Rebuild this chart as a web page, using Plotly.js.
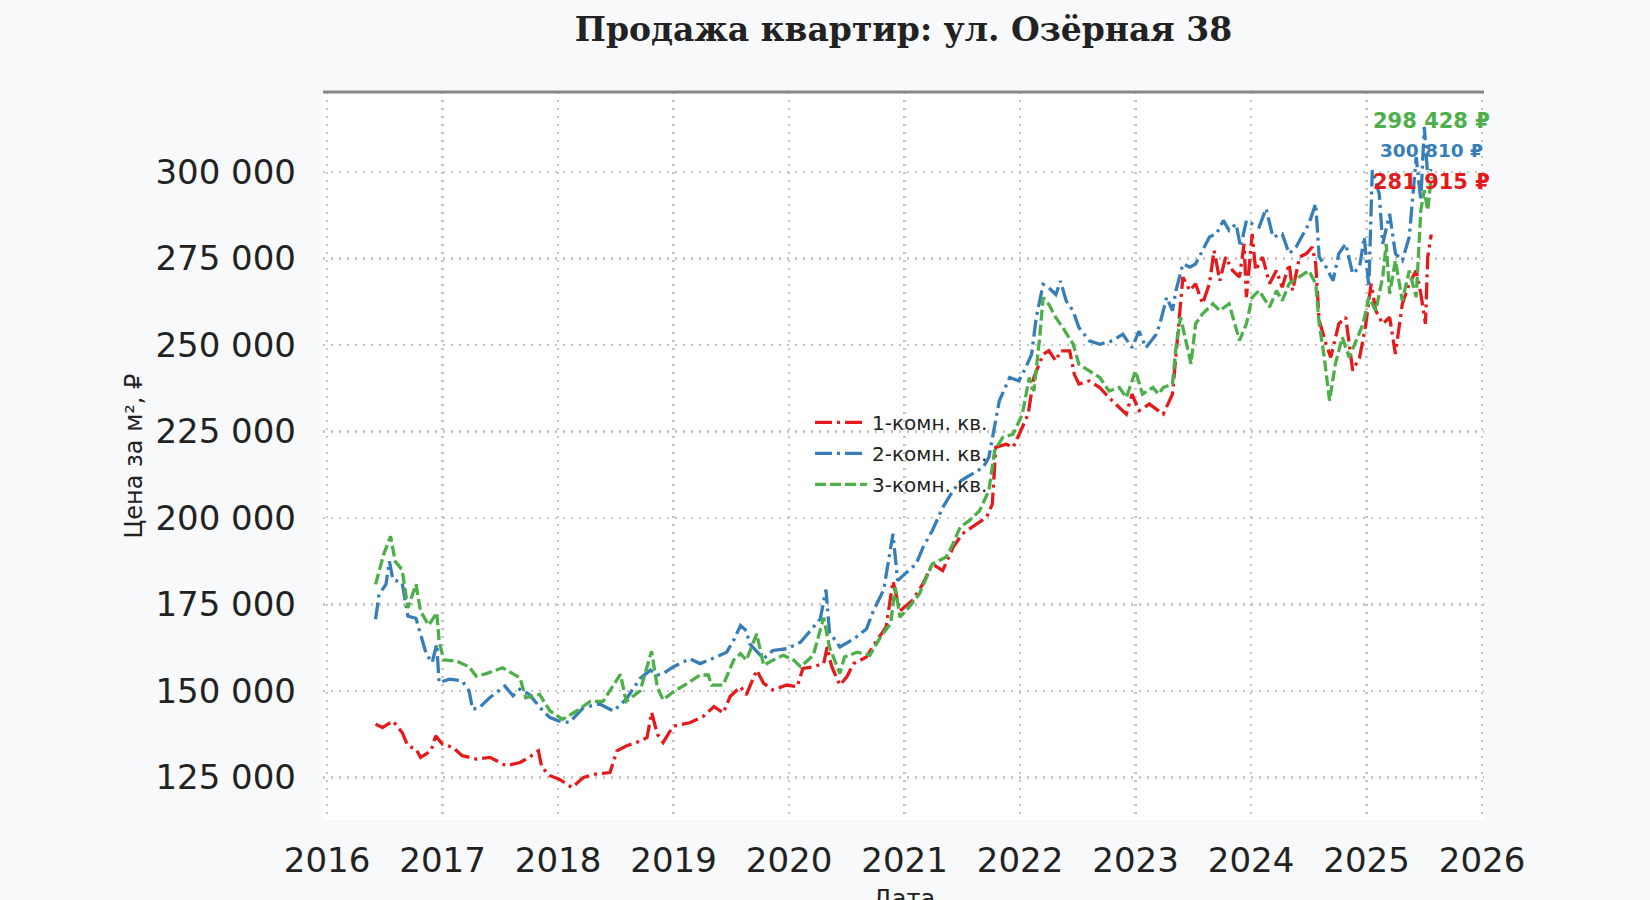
<!DOCTYPE html>
<html>
<head>
<meta charset="utf-8">
<script src="https://cdn.plot.ly/plotly-3.0.1.min.js"></script>
<style>
  html, body { margin: 0; padding: 0; background: #f8f9fb; }
  #chart { width: 1650px; height: 900px; }
</style>
</head>
<body>
<div id="chart"></div>
<script>
// ---- data ----
const seriesNames = ['1-комн. кв.', '2-комн. кв.', '3-комн. кв.'];

const years1 = [2016.42,2016.48,2016.57,2016.65,2016.70,2016.77,2016.81,2016.90,2016.94,2017.00,
  2017.09,2017.17,2017.29,2017.41,2017.55,2017.67,2017.75,2017.83,2017.86,2017.93,
  2018.01,2018.12,2018.22,2018.33,2018.45,2018.51,2018.59,2018.68,2018.77,2018.81,
  2018.86,2018.91,2018.97,2019.00,2019.14,2019.26,2019.35,2019.43,2019.49,2019.58,
  2019.63,2019.72,2019.78,2019.86,2019.98,2020.07,2020.12,2020.21,2020.30,2020.33,
  2020.37,2020.44,2020.50,2020.56,2020.67,2020.76,2020.84,2020.90,2020.96,2021.07,
  2021.16,2021.24,2021.33,2021.42,2021.50,2021.62,2021.71,2021.76,2021.79,2021.88,
  2021.94,2022.02,2022.07,2022.12,2022.20,2022.25,2022.31,2022.35,2022.43,2022.47,
  2022.51,2022.60,2022.69,2022.77,2022.86,2022.92,2022.97,2023.03,2023.12,2023.20,
  2023.24,2023.32,2023.37,2023.41,2023.47,2023.52,2023.58,2023.64,2023.68,2023.73,
  2023.78,2023.84,2023.90,2023.94,2023.96,2024.01,2024.04,2024.10,2024.16,2024.22,
  2024.27,2024.33,2024.36,2024.42,2024.48,2024.53,2024.56,2024.59,2024.65,2024.69,
  2024.76,2024.82,2024.88,2024.94,2024.99,2025.04,2025.08,2025.14,2025.20,2025.25,
  2025.31,2025.37,2025.43,2025.47,2025.51,2025.53,2025.56];
const price1 = [140400,139400,141300,138000,134100,133200,130800,132700,137000,134600,
  133700,131300,130300,130800,128400,129300,130800,132700,127900,125500,
  124500,122100,125000,126000,126400,132700,134100,135100,136500,143800,
  137500,135100,138400,139800,140800,142700,145500,143600,148400,151200,
  148900,156000,152200,150300,151700,151200,156500,157000,157900,162700,
  157000,151700,154100,157900,159800,164600,168400,181700,173100,176200,
  181000,186700,184800,191500,195400,198300,200200,204000,220400,221300,
  220400,226200,230000,240600,247300,248300,245400,248300,248300,241500,
  238700,239600,237700,234800,231900,230000,235800,231000,232900,231000,
  230000,235800,255100,269600,265700,267700,261900,267700,277300,268600,
  275400,271500,269600,279200,263800,282100,271500,275400,267700,271500,
  266700,273400,265700,275400,276400,278300,273400,257000,250300,246400,
  256100,258000,242600,246400,255100,267700,259900,256100,258000,247400,
  261900,267700,271500,264800,256100,275400,281915];

const years2 = [2016.42,2016.45,2016.51,2016.54,2016.57,2016.65,2016.70,2016.77,2016.81,2016.86,
  2016.91,2016.95,2016.97,2017.06,2017.17,2017.23,2017.26,2017.32,2017.41,2017.54,
  2017.61,2017.67,2017.75,2017.87,2017.93,2018.01,2018.10,2018.22,2018.36,2018.48,
  2018.59,2018.71,2018.80,2018.86,2018.91,2019.00,2019.14,2019.23,2019.37,2019.46,
  2019.52,2019.58,2019.63,2019.66,2019.78,2019.86,2019.98,2020.10,2020.21,2020.27,
  2020.32,2020.35,2020.44,2020.56,2020.67,2020.73,2020.82,2020.90,2020.94,2021.00,
  2021.10,2021.16,2021.24,2021.33,2021.42,2021.49,2021.59,2021.68,2021.73,2021.78,
  2021.82,2021.91,2021.99,2022.05,2022.10,2022.14,2022.20,2022.25,2022.31,2022.35,
  2022.40,2022.46,2022.51,2022.60,2022.69,2022.80,2022.89,2022.97,2023.03,2023.09,
  2023.18,2023.21,2023.27,2023.32,2023.35,2023.41,2023.47,2023.52,2023.58,2023.64,
  2023.70,2023.76,2023.81,2023.87,2023.91,2023.96,2024.01,2024.07,2024.13,2024.19,
  2024.27,2024.33,2024.39,2024.45,2024.50,2024.56,2024.59,2024.65,2024.71,2024.76,
  2024.82,2024.88,2024.94,2024.98,2025.02,2025.05,2025.11,2025.14,2025.20,2025.25,
  2025.31,2025.37,2025.43,2025.47,2025.50,2025.53,2025.56];
const price2 = [170700,177900,180800,187500,182200,181300,171600,171000,166300,160600,
  158200,163500,152400,153400,152900,150000,144700,145200,148100,151400,
  148600,150500,149000,144200,142300,141300,140900,145200,146200,144200,
  147600,153600,156000,154600,155000,157000,159300,157900,159800,161200,
  164600,168900,167400,163600,159300,161700,162200,164100,168400,170800,
  179300,167000,162700,165000,167900,173100,179300,195400,181900,183800,
  186700,191500,196300,203000,207900,210800,212700,214600,217500,226200,
  233800,240600,239600,243500,247300,257900,267500,266500,264600,268500,
  262700,259800,255000,251200,250200,251200,253100,249200,254000,249200,
  253100,256000,263800,259900,265700,273400,272500,273400,277300,281200,
  282100,286000,283100,285000,278300,286000,285000,284100,289400,281200,
  282100,276400,278300,282100,285000,290800,275400,272500,268600,276400,
  279200,270600,272500,281200,266700,300500,293700,279200,287900,276400,
  274400,281200,304300,291800,313000,298600,300810];

const years3 = [2016.42,2016.49,2016.55,2016.59,2016.65,2016.70,2016.77,2016.81,2016.88,2016.95,
  2016.97,2017.01,2017.12,2017.23,2017.29,2017.38,2017.52,2017.67,2017.72,2017.84,
  2017.93,2018.04,2018.16,2018.28,2018.39,2018.54,2018.59,2018.71,2018.81,2018.86,
  2018.91,2019.00,2019.12,2019.23,2019.30,2019.33,2019.43,2019.52,2019.58,2019.63,
  2019.72,2019.78,2019.86,2019.95,2020.04,2020.10,2020.21,2020.30,2020.35,2020.44,
  2020.48,2020.59,2020.70,2020.79,2020.88,2020.92,2020.96,2021.04,2021.13,2021.24,
  2021.36,2021.42,2021.48,2021.56,2021.65,2021.73,2021.78,2021.85,2021.94,2022.02,
  2022.08,2022.12,2022.17,2022.20,2022.25,2022.31,2022.37,2022.46,2022.51,2022.60,
  2022.69,2022.77,2022.86,2022.92,2023.00,2023.06,2023.15,2023.20,2023.24,2023.32,
  2023.35,2023.39,2023.44,2023.48,2023.52,2023.58,2023.67,2023.73,2023.81,2023.90,
  2023.96,2024.01,2024.07,2024.16,2024.22,2024.27,2024.33,2024.42,2024.50,2024.56,
  2024.59,2024.63,2024.68,2024.73,2024.79,2024.85,2024.91,2024.97,2025.02,2025.08,
  2025.14,2025.17,2025.20,2025.25,2025.31,2025.37,2025.43,2025.47,2025.50,2025.53,
  2025.56];
const price3 = [180800,189400,194700,187500,185000,174000,180800,173000,169000,172600,
  164400,159000,158600,157000,154300,155000,156700,153800,148000,149000,
  144200,141800,144200,147000,147000,154800,147000,150000,161500,151000,
  147400,149800,152200,154600,154600,151700,151700,158900,160800,158900,
  166500,157400,158900,160300,158900,157000,160300,171200,162700,155000,
  159800,161200,160300,165500,169500,180000,171300,174200,178100,186700,
  188700,192500,197300,199200,202100,207900,219400,223300,224200,230000,
  240600,236700,252100,263700,261700,257900,255000,250200,244400,242500,
  240600,236700,237700,234800,242500,235800,237700,235800,237700,238700,
  249300,258000,250300,244500,256100,259000,261900,259900,261900,251300,
  256100,263800,265700,260900,265700,262800,267700,269600,271500,267700,
  256100,247400,233900,244500,252200,246400,251300,256100,263800,259900,
  269600,279200,264800,274400,262800,271500,263800,288900,294700,288900,
  298428];

const yTickValues = [125000,150000,175000,200000,225000,250000,275000,300000];
const xTickValues = [2016,2017,2018,2019,2020,2021,2022,2023,2024,2025,2026];
const xTickLabels = ['2016','2017','2018','2019','2020','2021','2022','2023','2024','2025','2026'];

// ---- styling ----
const colors = ['#e41a1c', '#377eb8', '#4daf4a'];
const dashes = ['17px,5px,3px,5px', '17px,5px,3px,5px', '11px,4px'];
const allYears = [years1, years2, years3];
const allPrices = [price1, price2, price3];

function fmtRub(v) {
  return String(Math.round(v)).replace(/\B(?=(\d{3})+(?!\d))/g, ' ') + ' ₽';
}

const traces = allYears.map((xs, i) => ({
  type: 'scatter',
  mode: 'lines',
  name: seriesNames[i],
  legendgroup: 'g' + i,
  x: xs,
  y: allPrices[i],
  line: { color: colors[i], width: 3.3, dash: dashes[i] },
  hoverinfo: 'skip'
}));

// end-of-series labels (stacked above plot top-right)
const labelOrder = [2, 1, 0];           // green, blue, red (top to bottom)
const labelY = [0.9595, 0.9197, 0.877];
const labelSize = [21, 18.5, 21];
const labelX = [1.0072, 1.0012, 1.0072];
const annotations = labelOrder.map((si, k) => {
  const p = allPrices[si];
  return {
    xref: 'paper', yref: 'paper',
    x: labelX[k], y: labelY[k],
    xanchor: 'right', yanchor: 'middle',
    text: '<b>' + fmtRub(p[p.length - 1]) + '</b>',
    showarrow: false,
    font: { family: 'DejaVu Sans, sans-serif', size: labelSize[k], color: colors[si] }
  };
});

// x-axis title placed low (partly beyond the bottom edge, as in the reference)
annotations.push({
  xref: 'paper', yref: 'paper',
  x: 0.5, y: -0.086,
  xanchor: 'center', yanchor: 'top',
  text: 'Дата',
  showarrow: false,
  font: { family: 'DejaVu Sans, sans-serif', size: 24, color: '#222222' }
});

const gridStyle = { showgrid: true, gridcolor: '#c6c6c6', gridwidth: 2.4, griddash: '2.4px,5.6px' };

const layout = {
  width: 1650, height: 900,
  paper_bgcolor: '#f8f9fb',
  plot_bgcolor: '#ffffff',
  separators: ', ',
  margin: { l: 323, r: 166, t: 91.5, b: 80, pad: 0 },
  title: {
    text: '<b>Продажа квартир: ул. Озёрная 38</b>',
    font: { family: 'DejaVu Serif, serif', size: 33, color: '#222222' },
    xref: 'paper', x: 0.5, xanchor: 'center',
    yref: 'container', y: 0.967, yanchor: 'middle'
  },
  xaxis: Object.assign({
    type: 'linear',
    range: [2015.965, 2026.017],
    tickmode: 'array',
    tickvals: xTickValues,
    ticktext: xTickLabels,
    ticks: '',
    ticklabelstandoff: 17,
    tickfont: { family: 'DejaVu Sans, sans-serif', size: 34, color: '#222222' },
    zeroline: false,
    showline: false
  }, gridStyle),
  yaxis: Object.assign({
    range: [112695, 323108],
    tickmode: 'array',
    tickvals: yTickValues,
    tickformat: ',d',
    ticks: '',
    ticklabelstandoff: 26,
    tickfont: { family: 'DejaVu Sans, sans-serif', size: 34, color: '#222222' },
    zeroline: false,
    showline: false,
    title: { text: 'Цена за м², ₽', font: { family: 'DejaVu Sans, sans-serif', size: 24, color: '#222222' }, standoff: 5 }
  }, gridStyle),
  legend: {
    x: 0.4195, y: 0.573, xanchor: 'left', yanchor: 'top',
    bgcolor: 'rgba(0,0,0,0)', borderwidth: 0,
    traceorder: 'grouped', tracegroupgap: 2,
    itemwidth: 52,
    font: { family: 'DejaVu Sans, sans-serif', size: 20, color: '#222222' }
  },
  shapes: [{
    type: 'line', xref: 'paper', yref: 'paper',
    x0: 0, x1: 1, y0: 1, y1: 1,
    line: { color: '#888888', width: 3 }
  }],
  annotations: annotations,
  showlegend: true
};

Plotly.newPlot('chart', traces, layout, { staticPlot: true, displayModeBar: false });
</script>
</body>
</html>
